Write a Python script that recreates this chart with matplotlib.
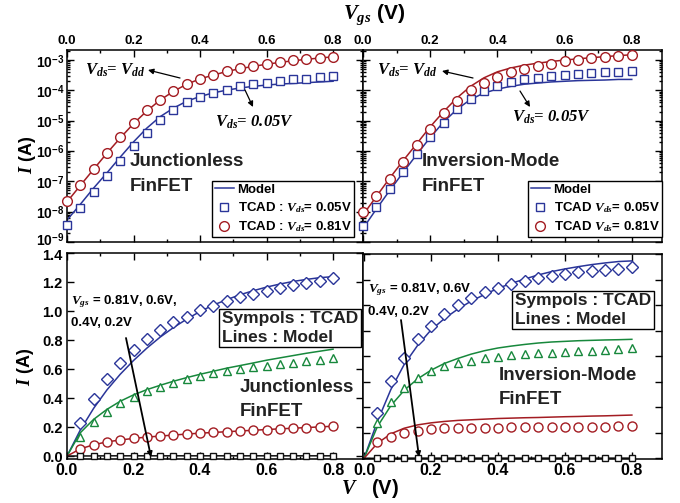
import matplotlib
matplotlib.use("Agg")
import matplotlib.pyplot as plt
from matplotlib.ticker import MultipleLocator, FixedLocator, FixedFormatter, LogLocator, NullFormatter
from matplotlib.lines import Line2D
from matplotlib.transforms import ScaledTranslation

# ---------------- data ----------------
vgs = [0.00, 0.04, 0.08, 0.12, 0.16, 0.20, 0.24, 0.28, 0.32, 0.36, 0.40,
       0.44, 0.48, 0.52, 0.56, 0.60, 0.64, 0.68, 0.72, 0.76, 0.80]

# Junctionless FinFET transfer curves
jl_tcad_005 = [3.6e-9, 1.3e-8, 4.4e-8, 1.5e-7, 4.6e-7, 1.5e-6, 4.0e-6, 1.07e-5, 2.3e-5, 4.0e-5, 6.0e-5,
               8.3e-5, 1.07e-4, 1.35e-4, 1.6e-4, 1.8e-4, 2.05e-4, 2.3e-4, 2.45e-4, 2.7e-4, 2.9e-4]
jl_tcad_081 = [2.2e-8, 7.7e-8, 2.6e-7, 8.8e-7, 2.8e-6, 8.2e-6, 2.2e-5, 4.9e-5, 9.5e-5, 1.6e-4, 2.4e-4,
               3.2e-4, 4.3e-4, 5.3e-4, 6.3e-4, 7.4e-4, 8.6e-4, 9.7e-4, 1.08e-3, 1.2e-3, 1.3e-3]
jl_model_005 = [5.3e-9, 1.75e-8, 6.0e-8, 1.9e-7, 6.3e-7, 2.0e-6, 5.7e-6, 1.36e-5, 2.6e-5, 4.4e-5, 6.3e-5,
                8.3e-5, 1.02e-4, 1.2e-4, 1.36e-4, 1.5e-4, 1.62e-4, 1.7e-4, 1.8e-4, 1.9e-4, 2.0e-4]
jl_model_081 = [2.1e-8, 7.3e-8, 2.5e-7, 8.5e-7, 2.7e-6, 8.0e-6, 2.1e-5, 4.8e-5, 9.3e-5, 1.6e-4, 2.4e-4,
                3.2e-4, 4.2e-4, 5.2e-4, 6.2e-4, 7.3e-4, 8.4e-4, 9.5e-4, 1.06e-3, 1.17e-3, 1.28e-3]

# Inversion-mode FinFET transfer curves
im_tcad_005 = [3.4e-9, 1.4e-8, 5.5e-8, 2.1e-7, 7.7e-7, 2.8e-6, 8.5e-6, 2.4e-5, 5.4e-5, 9.5e-5, 1.4e-4,
               1.9e-4, 2.3e-4, 2.65e-4, 2.9e-4, 3.2e-4, 3.4e-4, 3.7e-4, 3.9e-4, 4.1e-4, 4.3e-4]
im_tcad_081 = [9.5e-9, 3.3e-8, 1.2e-7, 4.5e-7, 1.6e-6, 5.5e-6, 1.75e-5, 4.4e-5, 1.0e-4, 1.8e-4, 2.8e-4,
               3.9e-4, 5.1e-4, 6.3e-4, 7.7e-4, 9.0e-4, 1.03e-3, 1.17e-3, 1.3e-3, 1.4e-3, 1.5e-3]
im_model_005 = [2.8e-9, 1.23e-8, 5.1e-8, 2.0e-7, 7.7e-7, 2.8e-6, 9.1e-6, 2.4e-5, 5.0e-5, 8.2e-5, 1.1e-4,
                1.36e-4, 1.6e-4, 1.75e-4, 1.9e-4, 2.0e-4, 2.1e-4, 2.15e-4, 2.2e-4, 2.3e-4, 2.3e-4]
im_model_081 = [7.8e-9, 3.2e-8, 1.3e-7, 4.9e-7, 1.75e-6, 6.3e-6, 2.0e-5, 5.7e-5, 1.36e-4, 2.6e-4, 4.1e-4,
                5.5e-4, 6.8e-4, 7.9e-4, 9.0e-4, 1.0e-3, 1.1e-3, 1.2e-3, 1.3e-3, 1.4e-3, 1.5e-3]

# Output curves
vds_model = [0.00, 0.04, 0.08, 0.12, 0.16, 0.20, 0.24, 0.28, 0.32, 0.36, 0.40,
             0.44, 0.48, 0.52, 0.56, 0.60, 0.64, 0.68, 0.72, 0.76, 0.80]
vds_tcad = [0.04, 0.08, 0.12, 0.16, 0.20, 0.24, 0.28, 0.32, 0.36, 0.40,
            0.44, 0.48, 0.52, 0.56, 0.60, 0.64, 0.68, 0.72, 0.76, 0.80]

jl_out_tcad = {
    "0.81": [0.226, 0.396, 0.530, 0.640, 0.728, 0.806, 0.866, 0.921, 0.962, 1.004,
             1.036, 1.066, 1.094, 1.119, 1.135, 1.158, 1.177, 1.193, 1.207, 1.227],
    "0.6": [0.134, 0.237, 0.306, 0.364, 0.410, 0.449, 0.479, 0.507, 0.532, 0.553,
            0.571, 0.587, 0.601, 0.613, 0.624, 0.633, 0.645, 0.654, 0.663, 0.675],
    "0.4": [0.046, 0.076, 0.099, 0.110, 0.122, 0.131, 0.138, 0.145, 0.152, 0.159,
            0.163, 0.168, 0.173, 0.177, 0.182, 0.187, 0.191, 0.196, 0.200, 0.207],
    "0.2": [0.002, 0.002, 0.002, 0.002, 0.002, 0.002, 0.002, 0.002, 0.002, 0.002,
            0.002, 0.002, 0.002, 0.002, 0.002, 0.002, 0.002, 0.002, 0.002, 0.002],
}
jl_out_model = {
    "0.81": [0.0, 0.180, 0.329, 0.456, 0.564, 0.659, 0.744, 0.820, 0.886, 0.944, 0.997,
             1.041, 1.078, 1.112, 1.140, 1.165, 1.186, 1.204, 1.218, 1.230, 1.237],
    "0.6": [0.0, 0.161, 0.253, 0.322, 0.378, 0.422, 0.458, 0.488, 0.516, 0.541, 0.564,
            0.585, 0.606, 0.624, 0.642, 0.661, 0.677, 0.693, 0.709, 0.723, 0.737],
    "0.4": [0.0, 0.050, 0.078, 0.098, 0.111, 0.122, 0.131, 0.138, 0.145, 0.152, 0.158,
            0.163, 0.168, 0.173, 0.178, 0.183, 0.188, 0.192, 0.197, 0.201, 0.206],
    "0.2": [0.0, 0.001, 0.001, 0.002, 0.002, 0.002, 0.002, 0.002, 0.002, 0.002, 0.002,
            0.002, 0.002, 0.002, 0.002, 0.002, 0.002, 0.002, 0.002, 0.002, 0.002],
}
im_out_tcad = {
    "0.81": [0.354, 0.604, 0.782, 0.932, 1.037, 1.129, 1.200, 1.257, 1.305, 1.336,
             1.365, 1.386, 1.410, 1.425, 1.441, 1.457, 1.465, 1.475, 1.483, 1.496],
    "0.6": [0.276, 0.441, 0.551, 0.630, 0.683, 0.722, 0.743, 0.761, 0.782, 0.795,
            0.808, 0.814, 0.822, 0.827, 0.832, 0.837, 0.843, 0.848, 0.853, 0.861],
    "0.4": [0.126, 0.171, 0.202, 0.218, 0.228, 0.234, 0.236, 0.239, 0.241, 0.241,
            0.244, 0.244, 0.247, 0.247, 0.247, 0.249, 0.249, 0.249, 0.252, 0.252],
    "0.2": [0.002, 0.002, 0.002, 0.002, 0.002, 0.002, 0.002, 0.002, 0.002, 0.002,
            0.002, 0.002, 0.002, 0.002, 0.002, 0.002, 0.002, 0.002, 0.002, 0.002],
}
im_out_model = {
    "0.81": [0.0, 0.289, 0.538, 0.735, 0.884, 1.005, 1.094, 1.168, 1.231, 1.283, 1.331,
             1.370, 1.404, 1.436, 1.462, 1.483, 1.501, 1.517, 1.530, 1.541, 1.546],
    "0.6": [0.0, 0.249, 0.412, 0.533, 0.622, 0.690, 0.743, 0.782, 0.816, 0.843, 0.864,
            0.879, 0.892, 0.903, 0.911, 0.916, 0.921, 0.924, 0.927, 0.929, 0.932],
    "0.4": [0.0, 0.118, 0.192, 0.236, 0.262, 0.278, 0.289, 0.297, 0.302, 0.307, 0.312,
            0.315, 0.318, 0.320, 0.323, 0.326, 0.328, 0.331, 0.333, 0.336, 0.339],
    "0.2": [0.0, 0.001, 0.001, 0.002, 0.002, 0.002, 0.002, 0.002, 0.002, 0.002, 0.002,
            0.002, 0.002, 0.002, 0.002, 0.002, 0.002, 0.002, 0.002, 0.002, 0.002],
}

x_ticks = [0.0, 0.2, 0.4, 0.6, 0.8]
x_labels = ["0.0", "0.2", "0.4", "0.6", "0.8"]
log_ticks = [1e-9, 1e-8, 1e-7, 1e-6, 1e-5, 1e-4, 1e-3]
log_labels = [r"$10^{-9}$", r"$10^{-8}$", r"$10^{-7}$", r"$10^{-6}$", r"$10^{-5}$", r"$10^{-4}$", r"$10^{-3}$"]
lin_ticks = [0.0, 0.2, 0.4, 0.6, 0.8, 1.0, 1.2, 1.4]
lin_labels = ["0.0", "0.2", "0.4", "0.6", "0.8", "1.0", "1.2", "1.4"]

# ---------------- style ----------------
BLUE = "#2a3599"
RED = "#a31c22"
GREEN = "#17883c"
BLACK = "#111111"

plt.rcParams["font.family"] = ["Liberation Sans", "DejaVu Sans"]
plt.rcParams["font.weight"] = "bold"
plt.rcParams["mathtext.fontset"] = "custom"
plt.rcParams["mathtext.rm"] = "Liberation Sans:bold"
plt.rcParams["mathtext.bf"] = "Liberation Sans:bold"
plt.rcParams["mathtext.it"] = "Liberation Serif:italic:bold"
plt.rcParams["axes.linewidth"] = 1.1

W, H = 680, 503
fig = plt.figure(figsize=(W / 100, H / 100), dpi=100)


def rect(x0, y0, x1, y1):
    return [x0 / W, 1 - y1 / H, (x1 - x0) / W, (y1 - y0) / H]


def fp(x, y):
    return (x / W, 1 - y / H)


ax_tl = fig.add_axes(rect(67, 50, 363, 242))
ax_tr = fig.add_axes(rect(363, 50, 662, 242))
ax_bl = fig.add_axes(rect(67, 253, 363, 459))
ax_br = fig.add_axes(rect(363, 254, 662, 459))


def style(ax):
    ax.tick_params(which="both", direction="in", top=True, right=True, width=1.0)
    ax.tick_params(which="major", length=5)
    ax.tick_params(which="minor", length=2.5)


# ---- top panels (log transfer) ----
for ax, t005, t081, m005, m081 in [
    (ax_tl, jl_tcad_005, jl_tcad_081, jl_model_005, jl_model_081),
    (ax_tr, im_tcad_005, im_tcad_081, im_model_005, im_model_081),
]:
    ax.set_yscale("log")
    ax.plot(vgs, m081, color=RED, lw=1.1, zorder=2)
    ax.plot(vgs, m005, color=BLUE, lw=1.1, zorder=2)
    ax.plot(vgs, t005, ls="none", marker="s", ms=5.5, mfc="white", mec=BLUE, mew=1.0, zorder=3,
            clip_on=False)
    ax.plot(vgs, t081, ls="none", marker="o", ms=7, mfc="white", mec=RED, mew=1.0, zorder=3,
            clip_on=False)
    ax.set_xlim(0, 0.89)
    ax.set_ylim(1e-9, 2.15e-3)
    ax.xaxis.set_major_locator(FixedLocator(x_ticks))
    ax.xaxis.set_major_formatter(FixedFormatter(x_labels))
    ax.xaxis.set_minor_locator(MultipleLocator(0.1))
    ax.yaxis.set_major_locator(FixedLocator(log_ticks))
    ax.yaxis.set_minor_locator(LogLocator(base=10, subs=[2, 3, 4, 5, 6, 7, 8, 9], numticks=20))
    ax.yaxis.set_minor_formatter(NullFormatter())
    style(ax)
    ax.tick_params(axis="x", labeltop=True, labelbottom=False, labelsize=9.5, pad=2)

ax_tl.yaxis.set_major_formatter(FixedFormatter(log_labels))
ax_tl.tick_params(axis="y", labelsize=10, pad=2)
ax_tr.tick_params(axis="y", labelleft=False)

# legends
for ax, labs, anchor in [
    (ax_tl, ["Model", r"TCAD : $V_{ds}$= 0.05V", r"TCAD : $V_{ds}$= 0.81V"], (0.97, 0.026)),
    (ax_tr, ["Model", r"TCAD $V_{ds}$= 0.05V", r"TCAD $V_{ds}$= 0.81V"], (1.0, 0.026)),
]:
    handles = [
        Line2D([], [], color=BLUE, lw=1.1),
        Line2D([], [], ls="none", marker="s", ms=5.5, mfc="white", mec=BLUE, mew=1.0),
        Line2D([], [], ls="none", marker="o", ms=7, mfc="white", mec=RED, mew=1.0),
    ]
    leg = ax.legend(handles, labs, loc="lower right", bbox_to_anchor=anchor,
                    fontsize=9.5, handlelength=1.4, handletextpad=0.3, borderpad=0.2,
                    labelspacing=0.35, borderaxespad=0, fancybox=False, framealpha=1,
                    edgecolor="black")
    leg.get_frame().set_linewidth(1.0)

# annotations top-left
serif = dict(family="Liberation Serif", style="italic", weight="bold", fontsize=12)
arrow_thin = dict(arrowstyle="-|>", lw=0.9, color="black", mutation_scale=8, shrinkA=0, shrinkB=0)
big = dict(ha="left", va="center", fontsize=13.5, color="#222222")

fig.text(*fp(85, 70), r"V$_{ds}$= V$_{dd}$", ha="left", va="center", **serif)
ax_tl.annotate("", xy=fp(148, 70), xytext=fp(180, 78), xycoords="figure fraction",
               textcoords="figure fraction", arrowprops=arrow_thin)
fig.text(*fp(215, 122), r"V$_{ds}$= 0.05V", ha="left", va="center", **serif)
ax_tl.annotate("", xy=fp(253, 107), xytext=fp(245, 90), xycoords="figure fraction",
               textcoords="figure fraction", arrowprops=arrow_thin)
fig.text(*fp(130, 162), "Junctionless", **big)
fig.text(*fp(130, 186), "FinFET", **big)

# annotations top-right
fig.text(*fp(377, 70), r"V$_{ds}$= V$_{dd}$", ha="left", va="center", **serif)
ax_tr.annotate("", xy=fp(442, 71), xytext=fp(473, 78), xycoords="figure fraction",
               textcoords="figure fraction", arrowprops=arrow_thin)
fig.text(*fp(512, 117), r"V$_{ds}$= 0.05V", ha="left", va="center", **serif)
ax_tr.annotate("", xy=fp(530, 107), xytext=fp(520, 91), xycoords="figure fraction",
               textcoords="figure fraction", arrowprops=arrow_thin)
fig.text(*fp(422, 162), "Inversion-Mode", **big)
fig.text(*fp(422, 186), "FinFET", **big)

# ---- bottom panels (output) ----
series_style = [
    ("0.81", BLUE, "D", 6.0),
    ("0.6", GREEN, "^", 6.0),
    ("0.4", RED, "o", 6.5),
    ("0.2", BLACK, "s", 5.0),
]
for ax, tcad, model in [(ax_bl, jl_out_tcad, jl_out_model), (ax_br, im_out_tcad, im_out_model)]:
    for key, col, mk, ms in series_style:
        ax.plot(vds_model, model[key], color=col, lw=1.1, zorder=2)
        ax.plot(vds_tcad, tcad[key], ls="none", marker=mk, ms=ms, mfc="white", mec=col,
                mew=1.0, zorder=3, clip_on=False)
    ax.set_xlim(0, 0.89)
    ax.xaxis.set_major_locator(FixedLocator(x_ticks))
    ax.xaxis.set_minor_locator(MultipleLocator(0.1))
    ax.xaxis.set_major_formatter(FixedFormatter(x_labels))
    style(ax)
    ax.tick_params(axis="x", labelsize=11.5, pad=3)

ax_bl.set_ylim(-0.02, 1.40)
ax_bl.yaxis.set_major_locator(FixedLocator(lin_ticks))
ax_bl.yaxis.set_major_formatter(FixedFormatter(lin_labels))
ax_bl.tick_params(axis="y", labelsize=10.5, pad=3)

ax_br.set_xlim(-0.003, 0.89)
ax_br.set_ylim(-0.005, 1.60)
ax_br.yaxis.set_major_locator(MultipleLocator(0.2))
ax_br.tick_params(axis="y", labelleft=False)

arrow_thick = dict(arrowstyle="-|>", lw=1.3, color="black", mutation_scale=7, shrinkA=0, shrinkB=0)

fig.text(*fp(71, 302), r"$V_{gs}$ = 0.81V, 0.6V,", ha="left", va="center", fontsize=9.5)
fig.text(*fp(71, 323), "0.4V, 0.2V", ha="left", va="center", fontsize=9.5)
ax_bl.annotate("", xy=fp(151, 457), xytext=fp(126, 338), xycoords="figure fraction",
               textcoords="figure fraction", arrowprops=arrow_thick)
fig.text(*fp(222, 328), "Sympols : TCAD\nLines : Model", ha="left", va="center", fontsize=12.5,
         linespacing=1.25, color="#222222",
         bbox=dict(boxstyle="square,pad=0.15", fc="white", ec="black", lw=1.0))
fig.text(*fp(240, 388), "Junctionless", **big)
fig.text(*fp(240, 412), "FinFET", **big)

fig.text(*fp(368, 290), r"$V_{gs}$ = 0.81V, 0.6V", ha="left", va="center", fontsize=9.5)
fig.text(*fp(368, 312), "0.4V, 0.2V", ha="left", va="center", fontsize=9.5)
ax_br.annotate("", xy=fp(419, 457), xytext=fp(401, 320), xycoords="figure fraction",
               textcoords="figure fraction", arrowprops=arrow_thick)
fig.text(*fp(515, 310), "Sympols : TCAD\nLines : Model", ha="left", va="center", fontsize=12.5,
         linespacing=1.25, color="#222222",
         bbox=dict(boxstyle="square,pad=0.15", fc="white", ec="black", lw=1.0))
fig.text(*fp(499, 376), "Inversion-Mode", **big)
fig.text(*fp(499, 400), "FinFET", **big)

# axis titles
fig.text(*fp(374, 15), r"$V_{gs}$ (V)", ha="center", va="center", fontsize=15)
fig.text(*fp(370, 489), r"$V$   (V)", ha="center", va="center", fontsize=14.5)
fig.text(*fp(28, 155), r"$I$ (A)", ha="center", va="center", rotation=90, fontsize=13)
fig.text(*fp(26, 367), r"$I$ (A)", ha="center", va="center", rotation=90, fontsize=13)

# nudge the two touching tick labels apart (10^-9 up, 1.4 down)
fig.canvas.draw()
t_low = ax_tl.yaxis.get_major_ticks()[0]
t_low.label1.set_transform(t_low.label1.get_transform() +
                           ScaledTranslation(0, 3 / 100, fig.dpi_scale_trans))
t_top = ax_bl.yaxis.get_major_ticks()[-1]
t_top.label1.set_transform(t_top.label1.get_transform() +
                           ScaledTranslation(0, -2 / 100, fig.dpi_scale_trans))

fig.savefig("out.png", dpi=100, facecolor="white")
